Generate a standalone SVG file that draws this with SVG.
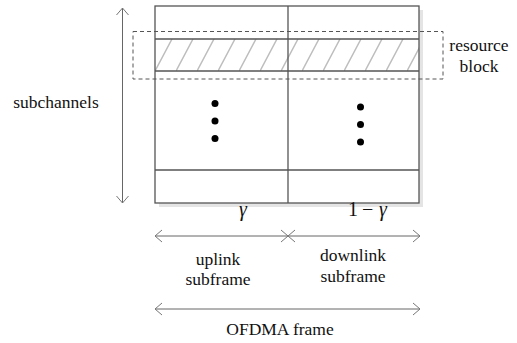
<svg xmlns="http://www.w3.org/2000/svg" width="517" height="343" viewBox="0 0 517 343">
  <style>
    .grid { fill: none; stroke: #555; stroke-width: 1.3; }
    .arrow { fill: none; stroke: #666; stroke-width: 1; marker-start: url(#head); marker-end: url(#head); }
    .dot { fill: #000; }
    .lbl { font-family: 'Liberation Serif', 'Times New Roman', serif; font-size: 17.5px; fill: #111; text-anchor: middle; }
    .math { font-family: 'Liberation Serif', 'Times New Roman', serif; font-size: 20px; fill: #111; }
  </style>
  <defs>
    <marker id="head" viewBox="-10 -8 12 16" markerWidth="12" markerHeight="16" refX="0" refY="0" orient="auto-start-reverse" markerUnits="userSpaceOnUse">
      <path d="M-7,-6 L0,0 L-7,6" fill="none" stroke="#777" stroke-width="1"/>
    </marker>
    <pattern id="hatch" patternUnits="userSpaceOnUse" x="155" y="39" width="21" height="32">
      <path d="M0,32 L17,0" stroke="#bdbdbd" stroke-width="1.5"/>
    </pattern>
  </defs>

  <!-- frame grid: two subframes, subchannel rows, with drop shadow -->
  <g id="frame">
    <rect x="159" y="10" width="264" height="197" fill="#e4e4e4"/>
    <rect x="155" y="6" width="264" height="197" fill="#fff"/>
    <rect x="155" y="39" width="264" height="32" fill="url(#hatch)"/>
    <rect x="155" y="6" width="264" height="197" class="grid"/>
    <line x1="288" y1="6" x2="288" y2="203" class="grid"/>
    <line x1="155" y1="39" x2="419" y2="39" class="grid"/>
    <line x1="155" y1="71" x2="419" y2="71" class="grid"/>
    <line x1="155" y1="170" x2="419" y2="170" class="grid"/>
  </g>

  <!-- dashed outline of one resource block -->
  <g id="resource-block">
    <rect x="133" y="31.5" width="310" height="47.5" fill="none" stroke="#555" stroke-width="1" stroke-dasharray="4,3"/>
    <text class="lbl" x="479" y="51">resource</text>
    <text class="lbl" x="479" y="72">block</text>
  </g>

  <g id="subchannels">
    <text class="lbl" x="56" y="108">subchannels</text>
  </g>

  <g id="gamma">
    <text class="math" x="243" y="216" text-anchor="middle" font-style="italic">γ</text>
  </g>
  <g id="one-minus-gamma">
    <text class="math"><tspan x="348" y="216">1</tspan><tspan x="362" y="216">−</tspan><tspan x="379" y="216" font-style="italic">γ</tspan></text>
  </g>

  <g id="uplink">
    <text class="lbl" x="218" y="265">uplink</text>
    <text class="lbl" x="218" y="285">subframe</text>
  </g>
  <g id="downlink">
    <text class="lbl" x="353" y="261">downlink</text>
    <text class="lbl" x="353" y="282">subframe</text>
  </g>
  <g id="ofdma">
    <text class="lbl" x="280" y="335">OFDMA frame</text>
  </g>

  <g id="dots-uplink">
    <circle class="dot" cx="215" cy="103.5" r="3.5"/>
    <circle class="dot" cx="215" cy="121" r="3.5"/>
    <circle class="dot" cx="215" cy="138.5" r="3.5"/>
  </g>
  <g id="dots-downlink">
    <circle class="dot" cx="360.5" cy="107" r="3.5"/>
    <circle class="dot" cx="360.5" cy="124.5" r="3.5"/>
    <circle class="dot" cx="360.5" cy="142" r="3.5"/>
  </g>

  <!-- dimension arrows -->
  <g id="connectors">
    <line class="arrow" x1="122.5" y1="8" x2="122.5" y2="203"/>
    <line class="arrow" x1="155" y1="236" x2="288" y2="236"/>
    <line class="arrow" x1="288" y1="236" x2="420" y2="236"/>
    <line class="arrow" x1="155" y1="309" x2="420" y2="309"/>
  </g>
</svg>
